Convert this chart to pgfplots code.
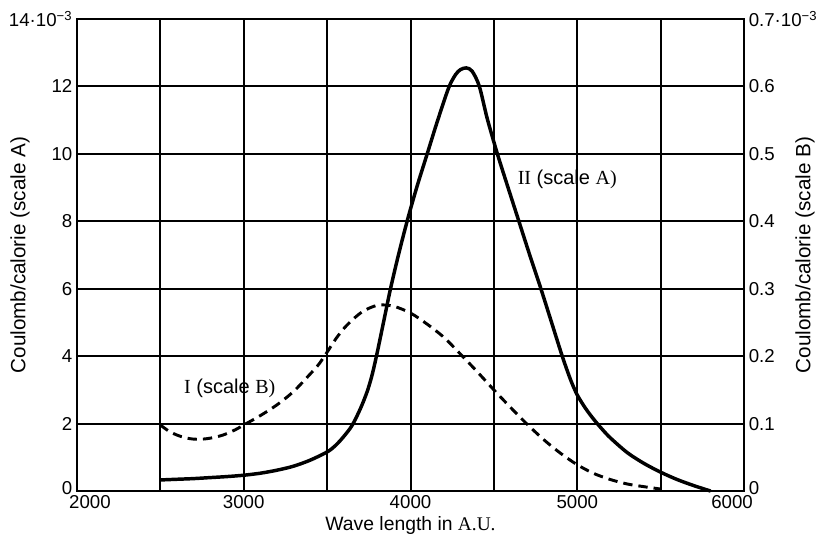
\documentclass[border=0pt]{standalone}
\usepackage{fontspec}
\setmainfont{Liberation Sans}
\newfontfamily\serif{Liberation Serif}
\usepackage{pgfplots}
\pgfplotsset{compat=1.18}

% curve II, scale A (x 10^-3 C/cal)
\pgfplotstableread{
x y
2500 0.33
2600 0.35
2700 0.37
2800 0.40
2900 0.43
3000 0.47
3100 0.53
3200 0.62
3300 0.74
3400 0.92
3500 1.16
3550 1.35
3600 1.62
3650 1.95
3700 2.45
3740 2.95
3770 3.45
3800 4.1
3840 5.05
3880 6.0
3930 7.05
3985 8.1
4040 9.05
4100 10.0
4160 10.95
4228 11.95
4270 12.35
4300 12.5
4335 12.55
4370 12.45
4413 12.0
4460 11.05
4521 10.0
4585 9.0
4650 8.0
4715 7.0
4782 6.0
4846 5.0
4910 4.0
4960 3.3
5000 2.85
5050 2.45
5100 2.12
5150 1.83
5200 1.57
5300 1.14
5400 0.82
5500 0.56
5600 0.34
5700 0.16
5800 0.0
}\curveII

% curve I, scale B (x 10^-3 C/cal)
\pgfplotstableread{
x y
2500 0.098
2550 0.089
2600 0.083
2650 0.079
2700 0.077
2750 0.077
2800 0.0785
2875 0.083
2950 0.091
3000 0.098
3100 0.112
3200 0.128
3300 0.148
3400 0.174
3450 0.188
3500 0.206
3550 0.225
3600 0.241
3650 0.2535
3700 0.264
3750 0.271
3814 0.276
3900 0.274
4000 0.264
4100 0.2475
4200 0.228
4300 0.203
4400 0.177
4500 0.150
4600 0.124
4700 0.099
4800 0.076
4900 0.056
5000 0.039
5100 0.026
5200 0.017
5300 0.0105
5400 0.0065
5500 0.003
}\curveI

\pgfplotsset{
  every axis/.append style={font=\fontsize{14}{17}\selectfont},
  chartbase/.style={
    width=500.25pt, height=354pt, scale only axis,
    xmin=2000, xmax=6000,
    clip=false,
    tick style={draw=none},
    axis line style={line width=1.6pt},
  },
}

\begin{document}
\begin{tikzpicture}
\begin{axis}[
  chartbase,
  ymin=0, ymax=14,
  xtick={2000,2500,...,6000},
  xticklabels={\hspace*{19.5pt}2000,,3000,,4000,,5000,,6000\hspace*{18pt}},
  ytick={0,2,...,14},
  yticklabels={\raisebox{4pt}{0},2,4,6,8,10,12,14·10\textsuperscript{−3}},
  grid=major,
  major grid style={black, line width=1.5pt},
  xlabel={Wave length in {\serif A.U.}},
  ylabel={Coulomb/calorie (scale A)},
  every axis x label/.style={at={(rel axis cs:0.5,-0.072)}, anchor=center, font=\fontsize{14.5}{17}\selectfont},
  every axis y label/.style={at={(rel axis cs:-0.0855,0.5)}, rotate=90, anchor=center, font=\fontsize{15.5}{18}\selectfont},
]
  \addplot[black, line width=2.6pt, smooth, tension=0.5] table {\curveII};
  \node[font=\fontsize{15}{18}\selectfont] at (axis cs:4940,9.23) {{\serif II} (scale {\serif A)}};
  \node[font=\fontsize{15}{18}\selectfont] at (axis cs:2916,3.06) {{\serif I} (scale {\serif B)}};
  \path (rel axis cs:-0.1154,-0.1017) rectangle (rel axis cs:1.1184,1.0403);
\end{axis}
\begin{axis}[
  chartbase,
  ymin=0, ymax=0.7,
  axis x line=none,
  axis y line*=right,
  ytick={0,0.1,0.2,0.3,0.4,0.5,0.6,0.7},
  yticklabels={\raisebox{4pt}{0},0.1,0.2,0.3,0.4,0.5,0.6,0.7·10\textsuperscript{−3}},
  ylabel={Coulomb/calorie (scale B)},
  every axis y label/.style={at={(rel axis cs:1.0915,0.5)}, rotate=90, anchor=center, font=\fontsize{15.5}{18}\selectfont},
]
  \addplot[black, line width=2.2pt, smooth, tension=0.5, dash pattern=on 7pt off 4.5pt] table {\curveI};
\end{axis}
\end{tikzpicture}
\end{document}
